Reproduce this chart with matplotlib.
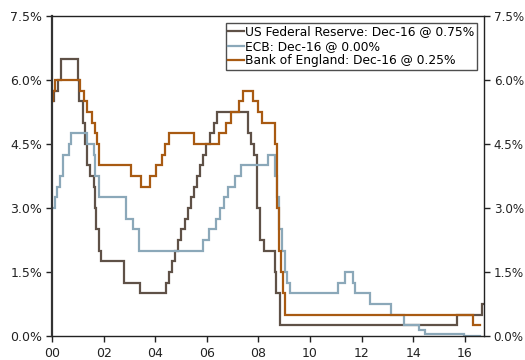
import matplotlib
matplotlib.use("Agg")
import matplotlib.pyplot as plt
import numpy as np

# Step-change dates (decimal years since 2000) and new policy rates (%)
fed_dates = [0.0, 0.09, 0.22, 0.37, 1.01, 1.08, 1.21, 1.29, 1.37, 1.49, 1.64, 1.71, 1.75,
             1.85, 1.94, 2.85, 3.48, 4.49, 4.61, 4.72, 4.86, 4.95, 5.09, 5.22, 5.34, 5.49,
             5.61, 5.72, 5.83, 5.95, 6.08, 6.24, 6.36, 6.49, 7.71, 7.83, 7.94, 8.06, 8.08,
             8.21, 8.33, 8.77, 8.83, 8.96, 15.96, 16.95, 16.96]
fed_rates = [5.50, 5.75, 6.00, 6.50, 6.00, 5.50, 5.00, 4.50, 4.00, 3.75, 3.50, 3.00, 2.50,
             2.00, 1.75, 1.25, 1.00, 1.25, 1.50, 1.75, 2.00, 2.25, 2.50, 2.75, 3.00, 3.25,
             3.50, 3.75, 4.00, 4.25, 4.50, 4.75, 5.00, 5.25, 4.75, 4.50, 4.25, 3.50, 3.00,
             2.25, 2.00, 1.50, 1.00, 0.25, 0.50, 0.75, 0.75]

ecb_dates = [0.0, 0.10, 0.21, 0.33, 0.44, 0.67, 0.76, 1.36, 1.66, 1.71, 1.86, 2.93, 3.18,
             3.43, 5.93, 6.18, 6.45, 6.61, 6.78, 6.95, 7.20, 7.45, 8.52, 8.79, 8.87, 8.94,
             9.05, 9.19, 9.27, 9.36, 11.28, 11.53, 11.86, 11.95, 12.53, 13.35, 13.87, 14.44,
             14.69, 16.21, 16.85]
ecb_rates = [3.00, 3.25, 3.50, 3.75, 4.25, 4.50, 4.75, 4.50, 4.25, 3.75, 3.25, 2.75, 2.50,
             2.00, 2.25, 2.50, 2.75, 3.00, 3.25, 3.50, 3.75, 4.00, 4.25, 3.75, 3.25, 2.50,
             2.00, 1.50, 1.25, 1.00, 1.25, 1.50, 1.25, 1.00, 0.75, 0.50, 0.25, 0.15,
             0.05, 0.00, 0.00]

boe_dates = [0.0, 0.03, 0.11, 1.10, 1.26, 1.36, 1.58, 1.71, 1.76, 1.85, 3.10, 3.52, 3.85,
             4.10, 4.35, 4.44, 4.59, 5.59, 6.59, 6.86, 7.03, 7.36, 7.51, 7.93, 8.10, 8.27,
             8.77, 8.85, 8.93, 9.02, 9.10, 9.17, 16.59, 16.85]
boe_rates = [5.50, 5.75, 6.00, 5.75, 5.50, 5.25, 5.00, 4.75, 4.50, 4.00, 3.75, 3.50, 3.75,
             4.00, 4.25, 4.50, 4.75, 4.50, 4.75, 5.00, 5.25, 5.50, 5.75, 5.50, 5.25, 5.00,
             4.50, 3.00, 2.00, 1.50, 1.00, 0.50, 0.25, 0.25]

labels = ["US Federal Reserve: Dec-16 @ 0.75%",
          "ECB: Dec-16 @ 0.00%",
          "Bank of England: Dec-16 @ 0.25%"]
colors = ["#5f5147", "#8ba8b9", "#a85a12"]

x_tick_labels = ["00", "02", "04", "06", "08", "10", "12", "14", "16"]
y_ticks = [0.0, 1.5, 3.0, 4.5, 6.0, 7.5]

plt.rcParams['font.family'] = ['DejaVu Sans']

fig = plt.figure(figsize=(5.25, 3.6), dpi=100)
ax = fig.add_axes([52/525, 24/360, 432/525, 320/360])

for d, r, c, lab in zip([fed_dates, ecb_dates, boe_dates],
                        [fed_rates, ecb_rates, boe_rates], colors, labels):
    ax.step(d, r, where='post', color=c, lw=1.6, label=lab, solid_joinstyle='miter')

# axis scale: ticks in the reference are slightly compressed relative to calendar years
xscale = 1 / 0.984
ax.set_xlim(0, 16.74 * xscale)
ax.set_xticks([2 * i * xscale for i in range(len(x_tick_labels))])
ax.set_xticklabels(x_tick_labels)
ax.set_ylim(0, 7.5)
ax.set_yticks(y_ticks)
ax.set_yticklabels([f"{v:.1f}%" for v in y_ticks])

ax.tick_params(axis='both', direction='out', length=4, width=1, labelsize=9,
               colors='#222222', pad=4)
ax.tick_params(axis='y', right=True, labelright=True)
for lbl in ax.get_yticklabels(which='both'):
    pass
ax.yaxis.set_tick_params(which='major', pad=4)
for t in ax.yaxis.get_major_ticks():
    t.label2.set_fontsize(8.6)
    t.set_pad(3)
for s in ax.spines.values():
    s.set_color('#222222')
    s.set_linewidth(1.0)
ax.spines['left'].set_linewidth(1.6)
ax.spines['left'].set_color('#333333')

leg = ax.legend(loc='upper right', bbox_to_anchor=(477/525, 337/360),
                bbox_transform=fig.transFigure, fontsize=8.8, frameon=True,
                fancybox=False, handlelength=1.3, handletextpad=0.1,
                borderpad=0.2, labelspacing=0.12, borderaxespad=0.0)
leg.get_frame().set_edgecolor('#222222')
leg.get_frame().set_linewidth(1.0)

fig.savefig("out.png", dpi=100)
